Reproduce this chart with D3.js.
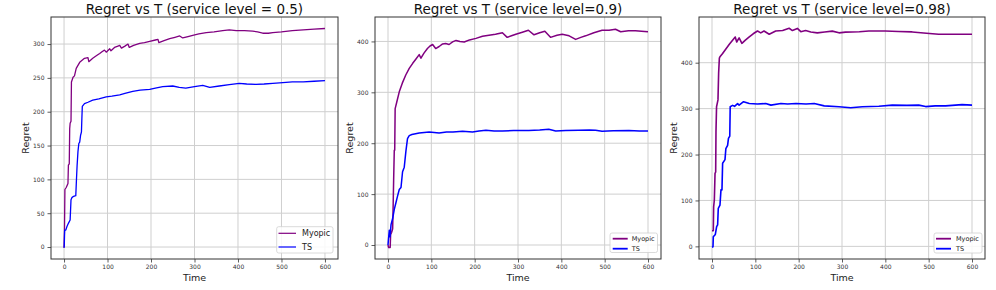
<!DOCTYPE html>
<html><head><meta charset="utf-8">
<script src="https://cdn.jsdelivr.net/npm/d3@7"></script>
<style>body{margin:0;background:#fff}svg{display:block}text{font-family:"DejaVu Sans",sans-serif}</style>
</head><body><svg id="c" width="996" height="290"></svg>
<script>
// ---------- data ----------
const titles = ["Regret vs T (service level = 0.5)", "Regret vs T (service level=0.9)", "Regret vs T (service level=0.98)"];
const seriesNames = ["Myopic", "TS"];
const xTicks = [0, 100, 200, 300, 400, 500, 600];
const yTicks1 = [0, 50, 100, 150, 200, 250, 300];
const yTicks2 = [0, 100, 200, 300, 400];
const yTicks3 = [0, 100, 200, 300, 400];

// [time, regret]
const p1Myopic = [[0,-1],[1,25],[2,85],[5,88],[9,94],[10,121],[12,123],[13,175],[14,183],[16,186],[17,244],[20.7,251],[24,253],[28,264],[36,273],[47,279],[55,280],[57,274],[66,279],[75,283],[82,286],[88,289],[93,291],[97,288],[105,293],[108,290],[116,295],[124,297],[128,298],[132,294],[140,297],[147,300],[150,295],[160,298],[174,301],[185,302],[197,304],[210,306],[216,307],[218,302],[230,305],[243,308],[255,310],[266,312],[273,309],[285,311],[296,313],[310,315],[327,317],[345,318],[365,320],[380,321],[396,320],[415,320],[434,319],[445,318],[457,316],[470,316],[480,317],[500,318],[525,320],[550,321],[575,322],[600,323]];
const p1TS = [[0,-1],[0.5,2],[1.4,25],[4,25],[6.5,30],[10,35],[14,40],[16,70],[18,73],[22,75],[27,76],[28.5,99],[30,120],[32,141],[34,153],[36,155],[38,165],[40,170],[41,190],[42,208],[47,212],[55,214],[66,217],[80,219],[97,222],[110,223],[128,225],[140,227],[158,230],[175,232],[197,233],[210,235],[227,237],[250,238],[265,236],[280,235],[300,237],[319,239],[335,236],[357,238],[380,240],[403,242],[420,241],[441,240.5],[460,241],[480,242],[503,243],[525,244],[550,244],[575,245],[600,246]];
const p2Myopic = [[0,0],[1.5,-5],[5,-5],[6,20],[8.4,25],[10.7,32],[12,82],[13,127],[14.5,186],[15.5,186],[16.5,268],[20,280],[26,301],[33,318],[41,334],[49,347],[57,357],[65,366],[72,374],[76,367],[83,377],[91,386],[97,391],[103,394],[110,386],[118,390],[126,395],[133,396],[141,394],[149,399],[157,402],[166,400],[176,399],[188,403],[203,406],[218,410],[233,412],[248,414],[264,417],[275,408],[285,411],[295,414],[310,418],[324,422],[337,413],[350,417],[362,420],[375,408],[390,412],[402,414],[418,411],[433,404],[445,408],[456,411],[475,417],[494,422],[510,422],[525,424],[537,419],[555,421],[571,421],[585,420],[600,419]];
const p2TS = [[0,0],[2,20],[3,29],[4.6,16],[7,40],[10.7,52],[14.5,70],[18,82],[22,96],[26,109],[30,113],[33.6,144],[37.5,153],[41.4,185],[45,209],[49,215],[55,217],[72,220],[95,222],[118,220],[135,222],[150,222],[172,223.5],[195,222],[210,224],[226,225.5],[245,224],[264,224],[290,225],[325,225],[350,226],[371,227.5],[387,224],[410,225],[440,225.5],[465,226],[479,225.5],[494,223.5],[520,224.5],[556,225],[580,224],[600,224]];
const p3Myopic = [[0,34],[3,34],[3.8,86],[5.4,101],[7,159],[8.5,162],[9.2,250],[10.5,304],[12,311],[13.8,319],[15.3,377],[17,410],[18.4,413],[24.5,420],[32,430],[40,440],[47.5,449],[53.6,456],[57,445],[62.6,454],[69,442],[77,449],[86,456],[95,463],[105,469],[112.5,465],[120,469],[132,462],[147,469],[163,470],[178,475],[185.6,470],[197,474.6],[205,467.5],[216,470],[228,467],[243,465],[260,467],[277.6,468.7],[293,465],[308,466.5],[340,467.5],[362,469],[400,469],[430,468],[462,467],[495,464],[523,462],[550,462],[575,462],[600,462]];
const p3TS = [[0,-2],[2.3,-1],[3,21],[7.7,26],[10.7,43],[13,47],[14.5,83],[18.4,90],[20.7,123],[23,123],[24.5,181],[30,189],[32,213],[36,220],[38,235],[41,240],[42,304],[47.5,307],[52,305],[59,311],[62.6,307.6],[72.8,315],[86,311],[105,310],[124,311],[136,307.6],[159,311],[174.5,310],[194,311],[217,310],[236,311],[259,306],[293,304],[320,302],[347,304],[385,305],[416,307.6],[450,307],[477,307.6],[493,304.4],[515,306],[539,306],[577,308.6],[600,307.6]];

const colors = ["#800080", "#0000ff"];

// ---------- layout ----------
const panels = [
  {title: titles[0], series: [p1Myopic, p1TS], yTicks: yTicks1, l: 51, r: 338, t: 17, b: 259, yDom: [-17.7, 340], lw: 1.3,
   leg: {x: 276.7, y: 226.7, w: 56.3, h: 26.3, fs: 8, l0: 278.5, l1: 296, tx: 302, rows: [233.3, 247], lw: 1.2}},
  {title: titles[1], series: [p2Myopic, p2TS], yTicks: yTicks2, l: 375, r: 661, t: 17, b: 259, yDom: [-27.5, 448], lw: 1.5,
   leg: {x: 610, y: 233, w: 47.5, h: 19.5, fs: 6.5, l0: 612.7, l1: 627.7, tx: 631.7, rows: [238.7, 248.7], lw: 1.8}},
  {title: titles[2], series: [p3Myopic, p3TS], yTicks: yTicks3, l: 699, r: 985, t: 17, b: 259, yDom: [-27.5, 499.5], lw: 1.6,
   leg: {x: 934, y: 233, w: 48, h: 20, fs: 6.5, l0: 936, l1: 951, tx: 956, rows: [238.7, 248.7], lw: 1.8}}
];

const svg = d3.select("#c");
svg.append("rect").attr("width", 996).attr("height", 290).attr("fill", "#fff");

panels.forEach(p => {
  const x = d3.scaleLinear().domain([-30, 630]).range([p.l, p.r]);
  const y = d3.scaleLinear().domain(p.yDom).range([p.b, p.t]);
  const g = svg.append("g");

  // grid
  g.selectAll(".vg").data(xTicks).join("line")
    .attr("x1", d => x(d)).attr("x2", d => x(d)).attr("y1", p.t).attr("y2", p.b)
    .attr("stroke", "#cfcfcf").attr("stroke-width", 1);
  g.selectAll(".hg").data(p.yTicks).join("line")
    .attr("x1", p.l).attr("x2", p.r).attr("y1", d => y(d)).attr("y2", d => y(d))
    .attr("stroke", "#cfcfcf").attr("stroke-width", 1);

  // lines
  const line = d3.line().x(d => x(d[0])).y(d => y(d[1]));
  p.series.forEach((s, i) => {
    g.append("path").datum(s).attr("d", line).attr("fill", "none")
      .attr("stroke", colors[i]).attr("stroke-width", p.lw).attr("stroke-linejoin", "round");
  });

  // axes
  const xAxis = d3.axisBottom(x).tickValues(xTicks).tickSize(3.5).tickPadding(2.5);
  const yAxis = d3.axisLeft(y).tickValues(p.yTicks).tickSize(3.5).tickPadding(3);
  const gx = g.append("g").attr("transform", `translate(0,${p.b})`).call(xAxis);
  const gy = g.append("g").attr("transform", `translate(${p.l},0)`).call(yAxis);
  [gx, gy].forEach(a => {
    a.select(".domain").remove();
    a.selectAll(".tick line").attr("stroke", "#333").attr("stroke-width", 0.8);
    a.selectAll(".tick text").attr("fill", "#333").style("font-size", "6px").style("font-family", "DejaVu Sans");
  });

  // frame
  g.append("rect").attr("x", p.l).attr("y", p.t).attr("width", p.r - p.l).attr("height", p.b - p.t)
    .attr("fill", "none").attr("stroke", "#333").attr("stroke-width", 1);

  // title
  g.append("text").attr("x", (p.l + p.r) / 2).attr("y", 13.5).attr("text-anchor", "middle")
    .style("font-size", "13.5px").attr("fill", "#111").text(p.title);
  // axis labels
  g.append("text").attr("x", (p.l + p.r) / 2).attr("y", 280.5).attr("text-anchor", "middle")
    .style("font-size", "9.5px").attr("fill", "#222").text("Time");
  g.append("text").attr("transform", `translate(${p.l - 22.5},${(p.t + p.b) / 2}) rotate(-90)`)
    .attr("text-anchor", "middle").style("font-size", "9.5px").attr("fill", "#222").text("Regret");

  // legend
  const L = p.leg;
  g.append("rect").attr("x", L.x).attr("y", L.y).attr("width", L.w).attr("height", L.h).attr("rx", 2)
    .attr("fill", "#fff").attr("fill-opacity", 0.85).attr("stroke", "#d0d0d0").attr("stroke-width", 0.8);
  seriesNames.forEach((n, i) => {
    g.append("line").attr("x1", L.l0).attr("x2", L.l1).attr("y1", L.rows[i]).attr("y2", L.rows[i])
      .attr("stroke", colors[i]).attr("stroke-width", L.lw);
    g.append("text").attr("x", L.tx).attr("y", L.rows[i]).attr("dy", "0.35em")
      .style("font-size", L.fs + "px").attr("fill", "#222").text(n);
  });
});
</script></body></html>
